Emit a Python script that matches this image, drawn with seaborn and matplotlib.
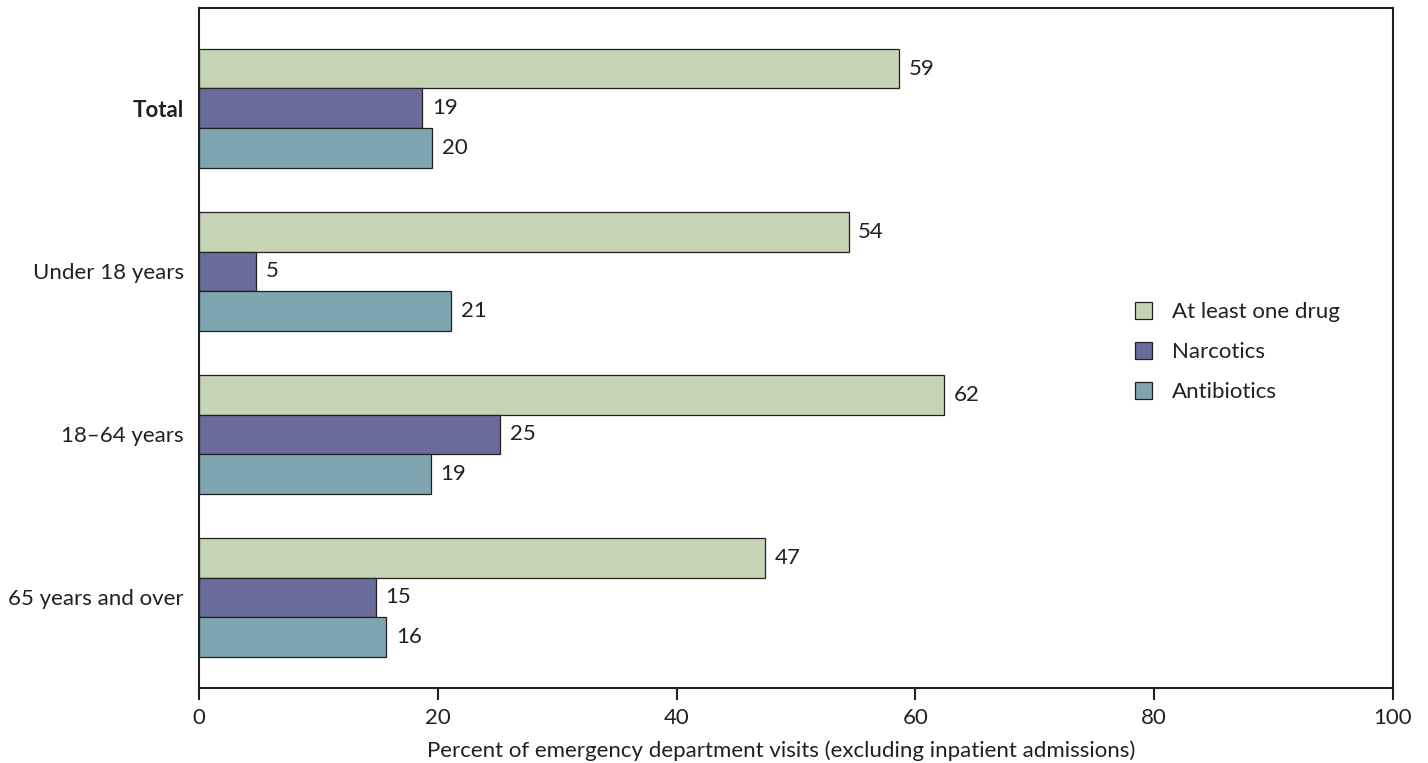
import pandas as pd
import matplotlib
matplotlib.use('Agg')
import matplotlib.pyplot as plt
import seaborn as sns

# age groups and drug types
groups = ['Total', 'Under 18 years', '18\u201364 years', '65 years and over']
drugs = ['At least one drug', 'Narcotics', 'Antibiotics']

# bar lengths (percent), labels are the printed rounded values
at_least_one = [58.6, 54.4, 62.4, 47.4]
narcotics = [18.7, 4.8, 25.2, 14.8]
antibiotics = [19.5, 21.1, 19.4, 15.7]

at_least_one_lbl = [59, 54, 62, 47]
narcotics_lbl = [19, 5, 25, 15]
antibiotics_lbl = [20, 21, 19, 16]

colors = ['#c5d4b5', '#6b6b9b', '#7fa5b0']
dark = '#231f20'

df = pd.DataFrame({
    'group': groups * 3,
    'drug': [d for d in drugs for _ in groups],
    'pct': at_least_one + narcotics + antibiotics,
})

sns.set_style('white')
plt.rcParams['font.family'] = ['Lato', 'DejaVu Sans']
fs = 16

fig = plt.figure(figsize=(14.28, 7.63), dpi=100)
ax = fig.add_axes([199 / 1428, 1 - 688 / 763, 1194 / 1428, 680 / 763])

sns.barplot(data=df, y='group', x='pct', hue='drug', order=groups, hue_order=drugs,
            palette=colors, saturation=1, orient='h', width=0.73, edgecolor=dark,
            linewidth=0.9, errorbar=None, ax=ax)

labels = [at_least_one_lbl, narcotics_lbl, antibiotics_lbl]
for cont, lbl in zip(ax.containers, labels):
    ax.bar_label(cont, labels=[str(v) for v in lbl], padding=7, fontsize=fs, color=dark)

ax.set_xlim(0, 100)
ax.set_ylim(3.555, -0.615)
ax.set_xticks([0, 20, 40, 60, 80, 100])
ax.set_xlabel('Percent of emergency department visits (excluding inpatient admissions)',
              fontsize=fs, color=dark)
ax.xaxis.set_label_coords(0.488, -0.077)
ax.set_ylabel('')

for s in ax.spines.values():
    s.set_visible(True)
    s.set_color(dark)
    s.set_linewidth(1.5)

ax.tick_params(axis='x', direction='out', length=8.6, width=1.5, color=dark,
               labelsize=fs, labelcolor=dark, pad=6, bottom=True)
ax.tick_params(axis='y', length=0, pad=11, labelsize=fs, labelcolor=dark)
ax.get_yticklabels()[0].set_fontweight('bold')

leg = ax.legend(loc='center left', bbox_to_anchor=(1135 / 1428, 1 - 352 / 763),
                bbox_transform=fig.transFigure, frameon=False, borderpad=0,
                borderaxespad=0, handlelength=0.78, handleheight=0.78,
                handletextpad=0.9, labelspacing=0.9, fontsize=fs)
for t in leg.get_texts():
    t.set_color(dark)

fig.savefig('out.png', dpi=100)
